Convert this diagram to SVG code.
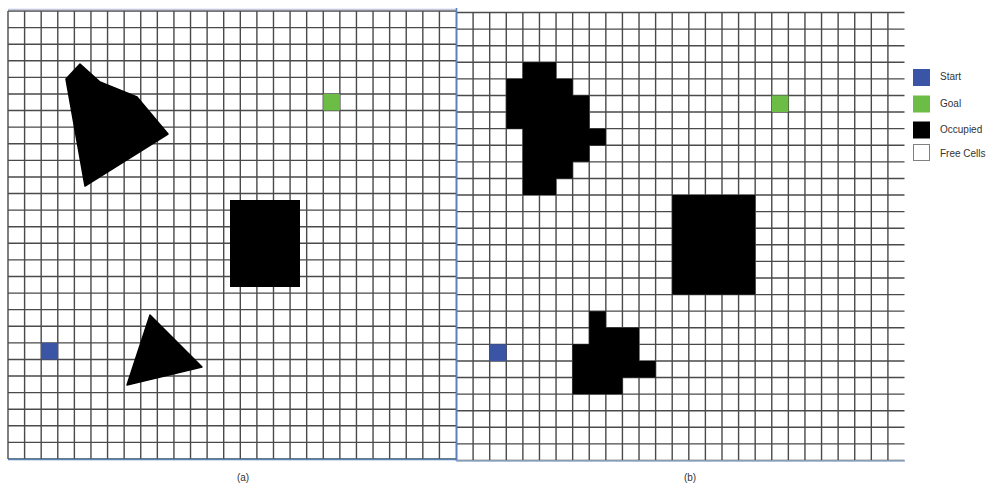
<svg xmlns="http://www.w3.org/2000/svg" width="996" height="485" viewBox="0 0 996 485">
<style>
.grid{fill:none;stroke:#4a4a4a;stroke-width:1.4}
.occ{fill:#000}
.start{fill:#3a55a6}
.goal{fill:#6cbd45}
.lbl{font-family:"Liberation Sans","Open Sans",Arial,sans-serif;font-size:10px;fill:#333}
.border{fill:none;stroke:#5a82b8;stroke-width:1.6}
</style>
<rect width="996" height="485" fill="#fff"/>
<g id="grid-a">
<path class="grid" d="M8 11v448m16.593-448v448m16.593-448v448m16.593-448v448m16.593-448v448m16.593-448v448m16.593-448v448m16.593-448v448m16.593-448v448m16.593-448v448m16.593-448v448m16.593-448v448m16.593-448v448m16.593-448v448m16.593-448v448m16.593-448v448m16.593-448v448m16.593-448v448m16.593-448v448m16.593-448v448m16.593-448v448m16.593-448v448m16.593-448v448m16.593-448v448m16.593-448v448m16.593-448v448m16.593-448v448"/>
<path class="grid" d="M8 11h448m-448 16.593h448m-448 16.593h448m-448 16.593h448m-448 16.593h448m-448 16.593h448m-448 16.593h448m-448 16.593h448m-448 16.593h448m-448 16.593h448m-448 16.593h448m-448 16.593h448m-448 16.593h448m-448 16.593h448m-448 16.593h448m-448 16.593h448m-448 16.593h448m-448 16.593h448m-448 16.593h448m-448 16.593h448m-448 16.593h448m-448 16.593h448m-448 16.593h448m-448 16.593h448m-448 16.593h448m-448 16.593h448m-448 16.593h448m-448 16.593h448"/>
<line x1="8" y1="9.5" x2="456" y2="9.5" stroke="#c3c8e2" stroke-width="1.5"/>
<line x1="8" y1="459.5" x2="456" y2="459.5" class="border"/>
</g>
<g id="grid-b">
<path class="grid" d="M456.5 12.5v448m16.593-448v448m16.593-448v448m16.593-448v448m16.593-448v448m16.593-448v448m16.593-448v448m16.593-448v448m16.593-448v448m16.593-448v448m16.593-448v448m16.593-448v448m16.593-448v448m16.593-448v448m16.593-448v448m16.593-448v448m16.593-448v448m16.593-448v448m16.593-448v448m16.593-448v448m16.593-448v448m16.593-448v448m16.593-448v448m16.593-448v448m16.593-448v448m16.593-448v448m16.593-448v448"/>
<path class="grid" d="M456.5 12.5h448m-448 16.593h448m-448 16.593h448m-448 16.593h448m-448 16.593h448m-448 16.593h448m-448 16.593h448m-448 16.593h448m-448 16.593h448m-448 16.593h448m-448 16.593h448m-448 16.593h448m-448 16.593h448m-448 16.593h448m-448 16.593h448m-448 16.593h448m-448 16.593h448m-448 16.593h448m-448 16.593h448m-448 16.593h448m-448 16.593h448m-448 16.593h448m-448 16.593h448m-448 16.593h448m-448 16.593h448m-448 16.593h448m-448 16.593h448m-448 16.593h448"/>
<line x1="456.5" y1="8" x2="456.5" y2="460.5" class="border"/>
<line x1="456" y1="461" x2="905" y2="461" stroke="#9fb8d8" stroke-width="1.4"/>
</g>
<g id="map-a">
<g id="a-polygon"><polygon class="occ" points="80,64 66,79 85,186 168,134 137,97 100,82" stroke="#000" stroke-width="1.5" stroke-linejoin="round"/></g>
<g id="a-triangle"><polygon class="occ" points="150,315 127,385 202,367" stroke="#000" stroke-width="1.5" stroke-linejoin="round"/></g>
<g id="a-rect"><rect class="occ" x="230" y="200" width="70" height="87"/></g>
<g id="a-start"><rect class="start" x="41.19" y="342.86" width="16.59" height="16.59"/></g>
<g id="a-goal"><rect class="goal" x="323.27" y="93.97" width="16.59" height="16.59"/></g>
</g>
<g id="map-b">
<g id="b-blob-top"><path class="occ" d="M522.87 62.28H556.06V78.87H572.65V95.47H589.24V128.65H605.84V145.24H589.24V161.84H572.65V178.43H556.06V195.02H522.87V128.65H506.28V78.87H522.87Z"/></g>
<g id="b-blob-bottom"><path class="occ" d="M589.24 311.17H605.84V327.77H639.02V360.95H655.62V377.55H622.43V394.14H572.65V344.36H589.24Z"/></g>
<g id="b-rect"><rect class="occ" x="672.21" y="195.02" width="82.96" height="99.56"/></g>
<g id="b-start"><rect class="start" x="489.69" y="344.36" width="16.59" height="16.59"/></g>
<g id="b-goal"><rect class="goal" x="771.77" y="95.47" width="16.59" height="16.59"/></g>
</g>
<g id="legend">
<g id="legend-start"><rect class="start" x="913" y="69" width="17" height="17"/><text class="lbl" x="940" y="80">Start</text></g>
<g id="legend-goal"><rect class="goal" x="913" y="95.5" width="17" height="17"/><text class="lbl" x="940" y="107">Goal</text></g>
<g id="legend-occupied"><rect class="occ" x="913" y="121.5" width="17" height="17"/><text class="lbl" x="940" y="133">Occupied</text></g>
<g id="legend-free"><rect x="913.5" y="144.5" width="16" height="16" fill="#fff" stroke="#808080" stroke-width="1"/><text class="lbl" x="940" y="157">Free Cells</text></g>
</g>
<g id="captions">
<text class="lbl" x="243" y="481" text-anchor="middle">(a)</text>
<text class="lbl" x="690" y="481" text-anchor="middle">(b)</text>
</g>
</svg>
